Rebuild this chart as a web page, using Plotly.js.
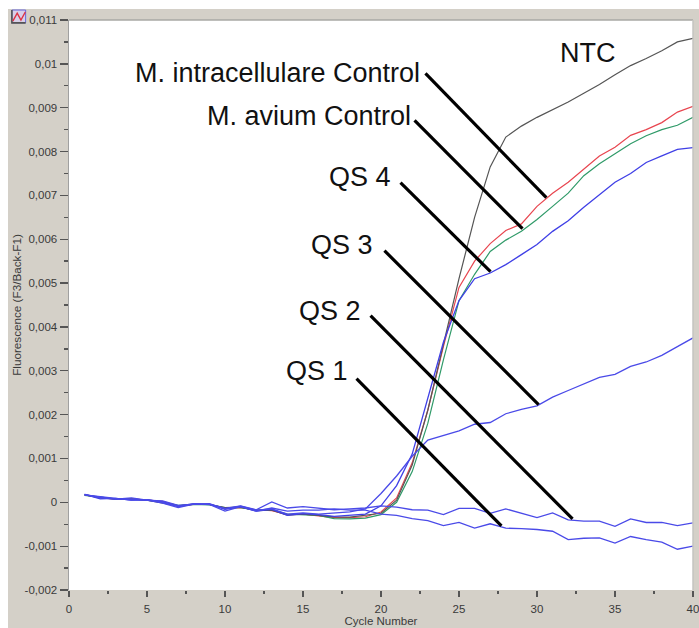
<!DOCTYPE html>
<html><head><meta charset="utf-8">
<script src="https://cdn.plot.ly/plotly-3.0.1.min.js"></script>
<style>
html,body{margin:0;padding:0;background:#fff;overflow:hidden}
#band{position:absolute;left:8px;top:9px;width:691px;height:619px;background:#d4d0c8}
#chart{position:absolute;left:0;top:0;width:699px;height:628px}
</style></head><body>
<div id="band"></div><div id="chart"></div>
<script>
// Values are read in thousandths of a fluorescence unit
const cycles=[1,2,3,4,5,6,7,8,9,10,11,12,13,14,15,16,17,18,19,20,21,22,23,24,25,26,27,28,29,30,31,32,33,34,35,36,37,38,39,40];
const red=[.17,.11,.07,.08,.05,.02,-.08,-.05,-.05,-.13,-.12,-.17,-.19,-.28,-.27,-.31,-.35,-.35,-.33,-.22,.1,.9,2.1,3.55,4.9,5.5,5.9,6.2,6.35,6.75,7.05,7.3,7.6,7.9,8.1,8.37,8.5,8.66,8.9,9.03];
const green=[.16,.12,.08,.07,.05,0,-.07,-.05,-.06,-.12,-.12,-.18,-.17,-.27,-.28,-.3,-.37,-.38,-.36,-.28,.0,.7,1.8,3.25,4.6,5.2,5.72,5.98,6.18,6.45,6.75,7.05,7.45,7.72,7.95,8.18,8.36,8.5,8.6,8.78];
const black=[.17,.1,.07,.08,.05,-.01,-.08,-.04,-.05,-.12,-.11,-.19,-.18,-.29,-.27,-.3,-.33,-.34,-.3,-.25,.05,.85,2.1,3.6,5.1,6.5,7.65,8.33,8.58,8.78,8.95,9.13,9.33,9.53,9.75,9.96,10.12,10.3,10.5,10.58];
const qs4=[.18,.08,.09,.05,.06,.01,-.1,-.04,-.04,-.16,-.1,-.2,-.16,-.3,-.26,-.28,-.32,-.3,-.27,-.08,.38,1.1,2.4,3.65,4.6,5.1,5.23,5.42,5.65,5.88,6.18,6.42,6.73,7.02,7.3,7.5,7.75,7.9,8.05,8.09];
const qs3=[.17,.12,.07,.1,.05,-.02,-.12,-.04,-.03,-.15,-.09,-.18,-.15,-.27,-.24,-.27,-.25,-.22,-.15,.2,.6,1.05,1.42,1.52,1.63,1.78,1.82,2.02,2.12,2.2,2.4,2.55,2.7,2.85,2.92,3.1,3.2,3.35,3.55,3.75];
const qs2=[.18,.1,.08,.06,.05,.03,-.07,-.04,-.04,-.14,-.08,-.17,.01,-.13,-.1,-.13,-.17,-.15,-.13,-.08,-.11,-.17,-.18,-.28,-.14,-.14,-.25,-.15,-.25,-.35,-.24,-.4,-.43,-.43,-.55,-.38,-.46,-.46,-.53,-.47];
const qs1=[.17,.13,.08,.05,.06,0,-.09,-.03,-.05,-.2,-.1,-.2,-.13,-.2,-.18,-.18,-.15,-.18,-.18,-.27,-.3,-.37,-.42,-.53,-.46,-.59,-.49,-.59,-.6,-.62,-.66,-.85,-.82,-.81,-.93,-.78,-.85,-.91,-1.07,-1];

const yTickVals=[.011,.01,.009,.008,.007,.006,.005,.004,.003,.002,.001,0,-.001,-.002];
const yTickText=["0,011","0,01","0,009","0,008","0,007","0,006","0,005","0,004","0,003","0,002","0,001","0","-0,001","-0,002"];
const labelNames=["NTC","M. intracellulare Control","M. avium Control","QS 4","QS 3","QS 2","QS 1"];
const labelX=[31.6,4.33,8.94,16.76,15.6,14.84,14.0];
const labelY=[10.24,9.8,8.8,7.43,5.86,4.37,3.0];
const leaderX0=[22.85,22.15,21.25,20.22,19.33,18.43];
const leaderY0=[9.78,8.71,7.29,5.74,4.26,2.82];
const leaderX1=[30.6,29.07,27.02,30.1,32.28,27.72];
const leaderY1=[6.95,6.24,5.26,2.23,-.38,-.54];

const k=v=>v/1000;
const line=(name,vals,color,w)=>({type:'scatter',mode:'lines',name,x:cycles,y:vals.map(k),
  line:{color,width:w,shape:'linear'},hoverinfo:'x+y+name',cliponaxis:true});
const traces=[
 line('M. intracellulare Control',red,'#e8454f',1.2),
 line('M. avium Control',green,'#2f9a68',1.2),
 line('NTC',black,'#555555',1.2),
 line('QS 4',qs4,'#3f3fe6',1.3),
 line('QS 3',qs3,'#4a4ae8',1.3),
 line('QS 2',qs2,'#4a4ae8',1.3),
 line('QS 1',qs1,'#4a4ae8',1.3)
];
const shapes=leaderX0.map((x,i)=>({type:'line',xref:'x',yref:'y',x0:x,y0:k(leaderY0[i]),x1:leaderX1[i],y1:k(leaderY1[i]),
  line:{color:'#000',width:3.2},layer:'above'}));
// plot frame: top and right edge
shapes.push({type:'line',xref:'paper',yref:'paper',x0:0,x1:1,y0:1,y1:1,line:{color:'#a8a8a4',width:1.5},layer:'above'});
shapes.push({type:'line',xref:'paper',yref:'paper',x0:1,x1:1,y0:0,y1:1,line:{color:'#c4c4c0',width:1.5},layer:'above'});
// small window icon in the top-left corner
shapes.push({type:'rect',xref:'paper',yref:'paper',x0:-.0915,x1:-.0695,y0:.995,y1:1.0175,fillcolor:'#d8d0e8',line:{color:'#6666dd',width:1},layer:'above'});
shapes.push({type:'path',xref:'paper',yref:'paper',path:'M -0.0915 1.0175 L -0.0915 0.995 L -0.0695 0.995',line:{color:'#555',width:1.6},layer:'above'});
shapes.push({type:'path',xref:'paper',yref:'paper',path:'M -0.09 0.998 L -0.083 1.012 L -0.077 1.0 L -0.07 1.014',line:{color:'#dd3344',width:1.4},layer:'above'});
const annotations=labelNames.map((t,i)=>({xref:'x',yref:'y',x:labelX[i],y:k(labelY[i]),xshift:-3.5,text:t,showarrow:false,xanchor:'left',yanchor:'middle',
  font:{family:'"Liberation Sans",Arial,sans-serif',size:27,color:'#111'}}));
const tickFont={family:'"Liberation Sans",Arial,sans-serif',size:11.5,color:'#3a3a3a'};
Plotly.newPlot('chart',traces,{
  width:699,height:628,
  margin:{l:68.5,r:6,t:20,b:38,pad:0},
  paper_bgcolor:'rgba(0,0,0,0)',plot_bgcolor:'#fff',
  showlegend:false,
  xaxis:{range:[0,40],tickmode:'array',tickvals:[0,5,10,15,20,25,30,35,40],ticks:'outside',ticklen:6,tickcolor:'#555',tickwidth:1.3,
    minor:{tickmode:'array',tickvals:[2.5,7.5,12.5,17.5,22.5,27.5,32.5,37.5],ticks:'outside',ticklen:3,tickcolor:'#555',tickwidth:1.3,showgrid:false},
    showgrid:false,zeroline:false,showline:false,tickfont:tickFont,ticklabeloverflow:'allow',ticklabelstandoff:2,
    title:{text:'Cycle Number',font:{family:'"Liberation Sans",Arial,sans-serif',size:11.5,color:'#3a3a3a'},standoff:3}},
  yaxis:{range:[-.002,.011],tickmode:'array',tickvals:yTickVals,ticktext:yTickText,ticks:'outside',ticklen:8,tickcolor:'#555',tickwidth:1.3,
    minor:{dtick:.0005,tick0:.0005,ticks:'outside',ticklen:4,tickcolor:'#555',tickwidth:1.3,showgrid:false},
    showgrid:false,zeroline:false,showline:true,linecolor:'#a0a0a0',linewidth:1.5,mirror:false,tickfont:tickFont,
    title:{text:'Fluorescence (F3/Back-F1)',font:{family:'"Liberation Sans",Arial,sans-serif',size:11.7,color:'#3a3a3a'},standoff:0}},
  shapes,annotations
},{displayModeBar:false,staticPlot:true});
</script>
</body></html>
